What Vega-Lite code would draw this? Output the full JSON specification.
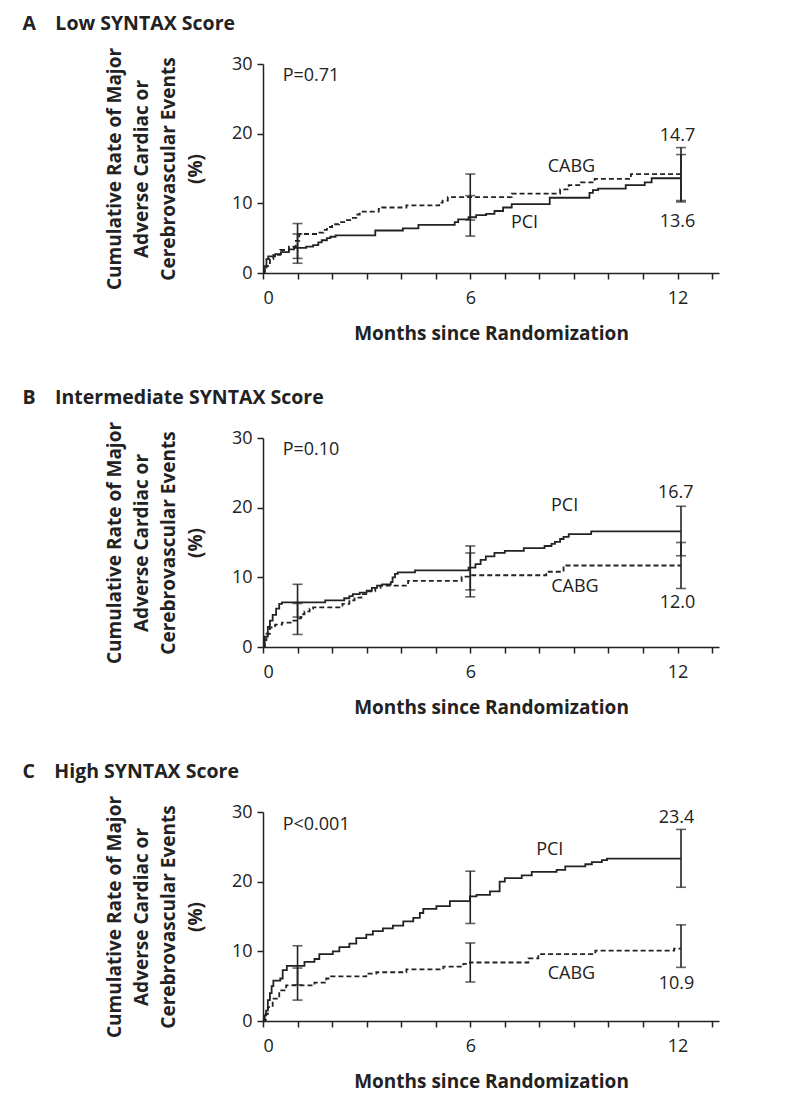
{
  "$schema": "https://vega.github.io/schema/vega-lite/v6.json",
  "padding": {"left": 22, "top": 13, "right": 5, "bottom": 5},
  "background": "white",
  "config": {
    "font": "Open Sans",
    "view": {"stroke": null},
    "axis": {"domainColor": "#222", "tickColor": "#222", "labelColor": "#222", "titleColor": "#222", "grid": false, "labelFont": "Open Sans", "labelFontSize": 18, "titleFont": "Open Sans", "titleFontSize": 19, "titleFontWeight": "bold", "tickSize": 6, "domainWidth": 1.5, "tickWidth": 1.5},
    "title": {"font": "Open Sans", "fontSize": 19.5, "fontWeight": "bold", "color": "#222", "anchor": "start", "frame": "bounds"},
    "text": {"font": "Open Sans", "fontSize": 18, "color": "#222"}
  },
  "datasets": {
    "curves": [
      {"panel":"A","group":"PCI","month":0,"rate":0},{"panel":"A","group":"PCI","month":0.05,"rate":1.0},{"panel":"A","group":"PCI","month":0.1,"rate":2.0},{"panel":"A","group":"PCI","month":0.15,"rate":2.4},{"panel":"A","group":"PCI","month":0.35,"rate":2.7},{"panel":"A","group":"PCI","month":0.52,"rate":3.0},{"panel":"A","group":"PCI","month":0.75,"rate":3.4},{"panel":"A","group":"PCI","month":0.9,"rate":3.6},{"panel":"A","group":"PCI","month":1.25,"rate":3.8},{"panel":"A","group":"PCI","month":1.45,"rate":4.0},{"panel":"A","group":"PCI","month":1.6,"rate":4.4},{"panel":"A","group":"PCI","month":1.7,"rate":4.7},{"panel":"A","group":"PCI","month":1.85,"rate":5.0},{"panel":"A","group":"PCI","month":1.95,"rate":5.2},{"panel":"A","group":"PCI","month":2.1,"rate":5.4},{"panel":"A","group":"PCI","month":3.25,"rate":6.1},{"panel":"A","group":"PCI","month":4.05,"rate":6.4},{"panel":"A","group":"PCI","month":4.5,"rate":6.9},{"panel":"A","group":"PCI","month":5.55,"rate":7.3},{"panel":"A","group":"PCI","month":5.65,"rate":7.7},{"panel":"A","group":"PCI","month":5.95,"rate":8.0},{"panel":"A","group":"PCI","month":6.17,"rate":8.3},{"panel":"A","group":"PCI","month":6.46,"rate":8.5},{"panel":"A","group":"PCI","month":6.7,"rate":8.9},{"panel":"A","group":"PCI","month":6.95,"rate":9.4},{"panel":"A","group":"PCI","month":7.2,"rate":9.9},{"panel":"A","group":"PCI","month":8.3,"rate":10.8},{"panel":"A","group":"PCI","month":9.45,"rate":11.5},{"panel":"A","group":"PCI","month":9.55,"rate":11.9},{"panel":"A","group":"PCI","month":9.7,"rate":12.1},{"panel":"A","group":"PCI","month":10.5,"rate":12.6},{"panel":"A","group":"PCI","month":11.05,"rate":13.0},{"panel":"A","group":"PCI","month":11.25,"rate":13.6},{"panel":"A","group":"PCI","month":12.1,"rate":13.6},
      {"panel":"A","group":"CABG","month":0,"rate":0},{"panel":"A","group":"CABG","month":0.05,"rate":0.5},{"panel":"A","group":"CABG","month":0.1,"rate":1.0},{"panel":"A","group":"CABG","month":0.2,"rate":2.0},{"panel":"A","group":"CABG","month":0.3,"rate":2.6},{"panel":"A","group":"CABG","month":0.5,"rate":3.3},{"panel":"A","group":"CABG","month":0.75,"rate":3.8},{"panel":"A","group":"CABG","month":0.95,"rate":4.6},{"panel":"A","group":"CABG","month":1.05,"rate":5.6},{"panel":"A","group":"CABG","month":1.6,"rate":5.8},{"panel":"A","group":"CABG","month":1.75,"rate":6.2},{"panel":"A","group":"CABG","month":1.85,"rate":6.6},{"panel":"A","group":"CABG","month":2.0,"rate":7.0},{"panel":"A","group":"CABG","month":2.2,"rate":7.3},{"panel":"A","group":"CABG","month":2.4,"rate":7.6},{"panel":"A","group":"CABG","month":2.55,"rate":7.9},{"panel":"A","group":"CABG","month":2.7,"rate":8.4},{"panel":"A","group":"CABG","month":2.8,"rate":8.8},{"panel":"A","group":"CABG","month":3.35,"rate":9.2},{"panel":"A","group":"CABG","month":3.45,"rate":9.4},{"panel":"A","group":"CABG","month":4.15,"rate":9.7},{"panel":"A","group":"CABG","month":5.1,"rate":10.1},{"panel":"A","group":"CABG","month":5.2,"rate":10.4},{"panel":"A","group":"CABG","month":5.35,"rate":10.9},{"panel":"A","group":"CABG","month":7.2,"rate":11.4},{"panel":"A","group":"CABG","month":8.6,"rate":12.0},{"panel":"A","group":"CABG","month":8.85,"rate":12.6},{"panel":"A","group":"CABG","month":9.2,"rate":13.0},{"panel":"A","group":"CABG","month":9.6,"rate":13.5},{"panel":"A","group":"CABG","month":10.65,"rate":14.2},{"panel":"A","group":"CABG","month":12.1,"rate":14.2},
      {"panel":"B","group":"PCI","month":0,"rate":0},{"panel":"B","group":"PCI","month":0.05,"rate":1.5},{"panel":"B","group":"PCI","month":0.14,"rate":2.9},{"panel":"B","group":"PCI","month":0.2,"rate":3.8},{"panel":"B","group":"PCI","month":0.28,"rate":4.6},{"panel":"B","group":"PCI","month":0.38,"rate":5.5},{"panel":"B","group":"PCI","month":0.47,"rate":6.2},{"panel":"B","group":"PCI","month":0.55,"rate":6.4},{"panel":"B","group":"PCI","month":1.8,"rate":6.7},{"panel":"B","group":"PCI","month":2.35,"rate":7.0},{"panel":"B","group":"PCI","month":2.5,"rate":7.3},{"panel":"B","group":"PCI","month":2.6,"rate":7.6},{"panel":"B","group":"PCI","month":2.8,"rate":7.8},{"panel":"B","group":"PCI","month":3.0,"rate":8.1},{"panel":"B","group":"PCI","month":3.15,"rate":8.5},{"panel":"B","group":"PCI","month":3.3,"rate":8.8},{"panel":"B","group":"PCI","month":3.45,"rate":9.0},{"panel":"B","group":"PCI","month":3.7,"rate":9.3},{"panel":"B","group":"PCI","month":3.75,"rate":10.0},{"panel":"B","group":"PCI","month":3.82,"rate":10.5},{"panel":"B","group":"PCI","month":3.9,"rate":10.7},{"panel":"B","group":"PCI","month":4.4,"rate":11.0},{"panel":"B","group":"PCI","month":5.95,"rate":11.4},{"panel":"B","group":"PCI","month":6.15,"rate":11.9},{"panel":"B","group":"PCI","month":6.3,"rate":12.5},{"panel":"B","group":"PCI","month":6.45,"rate":13.0},{"panel":"B","group":"PCI","month":6.7,"rate":13.5},{"panel":"B","group":"PCI","month":7.0,"rate":13.8},{"panel":"B","group":"PCI","month":7.55,"rate":14.2},{"panel":"B","group":"PCI","month":8.15,"rate":14.5},{"panel":"B","group":"PCI","month":8.35,"rate":14.8},{"panel":"B","group":"PCI","month":8.45,"rate":15.1},{"panel":"B","group":"PCI","month":8.6,"rate":15.5},{"panel":"B","group":"PCI","month":8.7,"rate":15.8},{"panel":"B","group":"PCI","month":8.85,"rate":16.2},{"panel":"B","group":"PCI","month":9.5,"rate":16.6},{"panel":"B","group":"PCI","month":12.1,"rate":16.6},
      {"panel":"B","group":"CABG","month":0,"rate":0},{"panel":"B","group":"CABG","month":0.05,"rate":1.0},{"panel":"B","group":"CABG","month":0.1,"rate":1.9},{"panel":"B","group":"CABG","month":0.2,"rate":2.8},{"panel":"B","group":"CABG","month":0.35,"rate":3.2},{"panel":"B","group":"CABG","month":0.55,"rate":3.5},{"panel":"B","group":"CABG","month":0.8,"rate":3.8},{"panel":"B","group":"CABG","month":1.0,"rate":4.1},{"panel":"B","group":"CABG","month":1.1,"rate":4.7},{"panel":"B","group":"CABG","month":1.2,"rate":5.1},{"panel":"B","group":"CABG","month":1.35,"rate":5.5},{"panel":"B","group":"CABG","month":1.45,"rate":5.7},{"panel":"B","group":"CABG","month":2.3,"rate":6.2},{"panel":"B","group":"CABG","month":2.5,"rate":6.7},{"panel":"B","group":"CABG","month":2.65,"rate":7.1},{"panel":"B","group":"CABG","month":2.85,"rate":7.6},{"panel":"B","group":"CABG","month":3.05,"rate":8.0},{"panel":"B","group":"CABG","month":3.25,"rate":8.5},{"panel":"B","group":"CABG","month":3.4,"rate":8.8},{"panel":"B","group":"CABG","month":4.2,"rate":9.5},{"panel":"B","group":"CABG","month":5.75,"rate":10.1},{"panel":"B","group":"CABG","month":6.0,"rate":10.3},{"panel":"B","group":"CABG","month":8.2,"rate":10.8},{"panel":"B","group":"CABG","month":8.7,"rate":11.7},{"panel":"B","group":"CABG","month":12.1,"rate":11.7},
      {"panel":"C","group":"PCI","month":0,"rate":0},{"panel":"C","group":"PCI","month":0.05,"rate":0.8},{"panel":"C","group":"PCI","month":0.09,"rate":1.5},{"panel":"C","group":"PCI","month":0.14,"rate":3.0},{"panel":"C","group":"PCI","month":0.2,"rate":4.0},{"panel":"C","group":"PCI","month":0.25,"rate":5.0},{"panel":"C","group":"PCI","month":0.3,"rate":5.8},{"panel":"C","group":"PCI","month":0.5,"rate":6.1},{"panel":"C","group":"PCI","month":0.57,"rate":7.3},{"panel":"C","group":"PCI","month":0.69,"rate":7.9},{"panel":"C","group":"PCI","month":1.2,"rate":8.5},{"panel":"C","group":"PCI","month":1.49,"rate":8.9},{"panel":"C","group":"PCI","month":1.63,"rate":9.6},{"panel":"C","group":"PCI","month":2.02,"rate":10.0},{"panel":"C","group":"PCI","month":2.21,"rate":10.6},{"panel":"C","group":"PCI","month":2.5,"rate":11.1},{"panel":"C","group":"PCI","month":2.7,"rate":11.9},{"panel":"C","group":"PCI","month":2.99,"rate":12.4},{"panel":"C","group":"PCI","month":3.18,"rate":12.9},{"panel":"C","group":"PCI","month":3.47,"rate":13.3},{"panel":"C","group":"PCI","month":3.76,"rate":13.7},{"panel":"C","group":"PCI","month":4.06,"rate":14.3},{"panel":"C","group":"PCI","month":4.35,"rate":14.8},{"panel":"C","group":"PCI","month":4.54,"rate":15.5},{"panel":"C","group":"PCI","month":4.64,"rate":16.1},{"panel":"C","group":"PCI","month":5.02,"rate":16.5},{"panel":"C","group":"PCI","month":5.41,"rate":17.2},{"panel":"C","group":"PCI","month":5.99,"rate":17.9},{"panel":"C","group":"PCI","month":6.18,"rate":18.1},{"panel":"C","group":"PCI","month":6.57,"rate":18.6},{"panel":"C","group":"PCI","month":6.85,"rate":20.0},{"panel":"C","group":"PCI","month":7.0,"rate":20.5},{"panel":"C","group":"PCI","month":7.49,"rate":20.9},{"panel":"C","group":"PCI","month":7.78,"rate":21.4},{"panel":"C","group":"PCI","month":8.5,"rate":21.7},{"panel":"C","group":"PCI","month":8.75,"rate":22.2},{"panel":"C","group":"PCI","month":9.33,"rate":22.5},{"panel":"C","group":"PCI","month":9.52,"rate":22.8},{"panel":"C","group":"PCI","month":9.81,"rate":23.1},{"panel":"C","group":"PCI","month":9.96,"rate":23.3},{"panel":"C","group":"PCI","month":12.1,"rate":23.3},
      {"panel":"C","group":"CABG","month":0,"rate":0},{"panel":"C","group":"CABG","month":0.08,"rate":1.0},{"panel":"C","group":"CABG","month":0.14,"rate":2.0},{"panel":"C","group":"CABG","month":0.28,"rate":3.2},{"panel":"C","group":"CABG","month":0.47,"rate":4.4},{"panel":"C","group":"CABG","month":0.67,"rate":5.1},{"panel":"C","group":"CABG","month":1.49,"rate":5.5},{"panel":"C","group":"CABG","month":1.83,"rate":6.1},{"panel":"C","group":"CABG","month":1.97,"rate":6.4},{"panel":"C","group":"CABG","month":2.99,"rate":6.8},{"panel":"C","group":"CABG","month":3.28,"rate":7.0},{"panel":"C","group":"CABG","month":4.15,"rate":7.4},{"panel":"C","group":"CABG","month":5.22,"rate":7.8},{"panel":"C","group":"CABG","month":5.8,"rate":8.2},{"panel":"C","group":"CABG","month":5.99,"rate":8.4},{"panel":"C","group":"CABG","month":7.68,"rate":9.0},{"panel":"C","group":"CABG","month":7.97,"rate":9.6},{"panel":"C","group":"CABG","month":9.62,"rate":10.1},{"panel":"C","group":"CABG","month":11.9,"rate":10.4},{"panel":"C","group":"CABG","month":12.1,"rate":10.4}
    ],
    "bars": [
      {"panel":"A","group":"PCI","month":1.0,"lo":1.4,"hi":5.6},{"panel":"A","group":"CABG","month":1.0,"lo":2.1,"hi":7.1},
      {"panel":"A","group":"PCI","month":6.0,"lo":5.3,"hi":11.1},{"panel":"A","group":"CABG","month":6.0,"lo":7.6,"hi":14.2},
      {"panel":"A","group":"PCI","month":12.1,"lo":10.2,"hi":17.0},{"panel":"A","group":"CABG","month":12.1,"lo":10.4,"hi":18.0},
      {"panel":"B","group":"PCI","month":1.0,"lo":4.3,"hi":9.0},{"panel":"B","group":"CABG","month":1.0,"lo":1.8,"hi":6.25},
      {"panel":"B","group":"PCI","month":6.0,"lo":8.2,"hi":14.5},{"panel":"B","group":"CABG","month":6.0,"lo":7.2,"hi":13.5},
      {"panel":"B","group":"PCI","month":12.1,"lo":13.1,"hi":20.2},{"panel":"B","group":"CABG","month":12.1,"lo":8.4,"hi":15.0},
      {"panel":"C","group":"PCI","month":1.0,"lo":5.2,"hi":10.8},{"panel":"C","group":"CABG","month":1.0,"lo":3.0,"hi":7.6},
      {"panel":"C","group":"PCI","month":6.0,"lo":14.0,"hi":21.5},{"panel":"C","group":"CABG","month":6.0,"lo":5.6,"hi":11.2},
      {"panel":"C","group":"PCI","month":12.1,"lo":19.2,"hi":27.5},{"panel":"C","group":"CABG","month":12.1,"lo":7.7,"hi":13.8}
    ],
    "labels": [
      {"panel":"A","month":12.0,"rate":19.7,"text":"14.7"},{"panel":"A","month":12.0,"rate":7.3,"text":"13.6"},{"panel":"A","month":8.93,"rate":15.2,"text":"CABG"},{"panel":"A","month":7.57,"rate":7.2,"text":"PCI"},
      {"panel":"B","month":11.95,"rate":22.1,"text":"16.7"},{"panel":"B","month":12.0,"rate":6.25,"text":"12.0"},{"panel":"B","month":9.03,"rate":8.6,"text":"CABG"},{"panel":"B","month":8.73,"rate":20.2,"text":"PCI"},
      {"panel":"C","month":11.97,"rate":29.2,"text":"23.4"},{"panel":"C","month":11.97,"rate":5.3,"text":"10.9"},{"panel":"C","month":8.93,"rate":6.8,"text":"CABG"},{"panel":"C","month":8.3,"rate":24.6,"text":"PCI"}
    ],
    "pvals": [
      {"panel":"A","month":0.57,"rate":28.3,"text":"P=0.71"},
      {"panel":"B","month":0.57,"rate":28.3,"text":"P=0.10"},
      {"panel":"C","month":0.57,"rate":28.2,"text":"P<0.001"}
    ]
  },
  "spacing": 44,
  "vconcat": [
    {
      "width": 456, "height": 209,
      "title": {"text": "A\u2003Low SYNTAX Score", "dx": -83, "offset": 13},
      "layer": [
        {"data": {"name": "curves"}, "transform": [{"filter": "datum.panel == 'A'"}],
         "mark": {"type": "line", "interpolate": "step-after", "color": "#222", "strokeWidth": 1.8},
         "encoding": {
           "x": {"field": "month", "type": "quantitative", "scale": {"domain": [0, 13.2], "nice": false}, "axis": {"values": [0,1,2,3,4,5,6,7,8,9,10,11,12,13], "tickCount": 30, "format": "d", "labelExpr": "datum.value % 6 == 0 ? datum.label : ''", "title": "Months since Randomization", "labelPadding": 10, "titlePadding": 17}},
           "y": {"field": "rate", "type": "quantitative", "scale": {"domain": [0, 30], "nice": false}, "axis": {"values": [0,10,20,30], "format": "d", "title": ["Cumulative Rate of Major", "Adverse Cardiac or", "Cerebrovascular Events", "(%)"], "titleLineHeight": 27, "titlePadding": 26, "labelPadding": 5}},
           "strokeDash": {"field": "group", "type": "nominal", "scale": {"domain": ["PCI", "CABG"], "range": [[1, 0], [5, 3]]}, "legend": null}
         }},
        {"data": {"name": "bars"}, "transform": [{"filter": "datum.panel == 'A'"}],
         "mark": {"type": "rule", "color": "#222", "strokeWidth": 1.6},
         "encoding": {"x": {"field": "month", "type": "quantitative"}, "y": {"field": "lo", "type": "quantitative"}, "y2": {"field": "hi"}}},
        {"data": {"name": "bars"}, "transform": [{"filter": "datum.panel == 'A'"}],
         "mark": {"type": "tick", "orient": "horizontal", "color": "#222", "thickness": 1.6, "size": 10},
         "encoding": {"x": {"field": "month", "type": "quantitative"}, "y": {"field": "lo", "type": "quantitative"}}},
        {"data": {"name": "bars"}, "transform": [{"filter": "datum.panel == 'A'"}],
         "mark": {"type": "tick", "orient": "horizontal", "color": "#222", "thickness": 1.6, "size": 10},
         "encoding": {"x": {"field": "month", "type": "quantitative"}, "y": {"field": "hi", "type": "quantitative"}}},
        {"data": {"name": "labels"}, "transform": [{"filter": "datum.panel == 'A'"}],
         "mark": {"type": "text", "align": "center", "baseline": "middle"},
         "encoding": {"x": {"field": "month", "type": "quantitative"}, "y": {"field": "rate", "type": "quantitative"}, "text": {"field": "text"}}},
        {"data": {"name": "pvals"}, "transform": [{"filter": "datum.panel == 'A'"}],
         "mark": {"type": "text", "align": "left", "baseline": "middle"},
         "encoding": {"x": {"field": "month", "type": "quantitative"}, "y": {"field": "rate", "type": "quantitative"}, "text": {"field": "text"}}}
      ]
    },
    {
      "width": 456, "height": 209,
      "title": {"text": "B\u2003Intermediate SYNTAX Score", "dx": -83, "offset": 13},
      "layer": [
        {"data": {"name": "curves"}, "transform": [{"filter": "datum.panel == 'B'"}],
         "mark": {"type": "line", "interpolate": "step-after", "color": "#222", "strokeWidth": 1.8},
         "encoding": {
           "x": {"field": "month", "type": "quantitative", "scale": {"domain": [0, 13.2], "nice": false}, "axis": {"values": [0,1,2,3,4,5,6,7,8,9,10,11,12,13], "tickCount": 30, "format": "d", "labelExpr": "datum.value % 6 == 0 ? datum.label : ''", "title": "Months since Randomization", "labelPadding": 10, "titlePadding": 17}},
           "y": {"field": "rate", "type": "quantitative", "scale": {"domain": [0, 30], "nice": false}, "axis": {"values": [0,10,20,30], "format": "d", "title": ["Cumulative Rate of Major", "Adverse Cardiac or", "Cerebrovascular Events", "(%)"], "titleLineHeight": 27, "titlePadding": 26, "labelPadding": 5}},
           "strokeDash": {"field": "group", "type": "nominal", "scale": {"domain": ["PCI", "CABG"], "range": [[1, 0], [5, 3]]}, "legend": null}
         }},
        {"data": {"name": "bars"}, "transform": [{"filter": "datum.panel == 'B'"}],
         "mark": {"type": "rule", "color": "#222", "strokeWidth": 1.6},
         "encoding": {"x": {"field": "month", "type": "quantitative"}, "y": {"field": "lo", "type": "quantitative"}, "y2": {"field": "hi"}}},
        {"data": {"name": "bars"}, "transform": [{"filter": "datum.panel == 'B'"}],
         "mark": {"type": "tick", "orient": "horizontal", "color": "#222", "thickness": 1.6, "size": 10},
         "encoding": {"x": {"field": "month", "type": "quantitative"}, "y": {"field": "lo", "type": "quantitative"}}},
        {"data": {"name": "bars"}, "transform": [{"filter": "datum.panel == 'B'"}],
         "mark": {"type": "tick", "orient": "horizontal", "color": "#222", "thickness": 1.6, "size": 10},
         "encoding": {"x": {"field": "month", "type": "quantitative"}, "y": {"field": "hi", "type": "quantitative"}}},
        {"data": {"name": "labels"}, "transform": [{"filter": "datum.panel == 'B'"}],
         "mark": {"type": "text", "align": "center", "baseline": "middle"},
         "encoding": {"x": {"field": "month", "type": "quantitative"}, "y": {"field": "rate", "type": "quantitative"}, "text": {"field": "text"}}},
        {"data": {"name": "pvals"}, "transform": [{"filter": "datum.panel == 'B'"}],
         "mark": {"type": "text", "align": "left", "baseline": "middle"},
         "encoding": {"x": {"field": "month", "type": "quantitative"}, "y": {"field": "rate", "type": "quantitative"}, "text": {"field": "text"}}}
      ]
    },
    {
      "width": 456, "height": 209,
      "title": {"text": "C\u2003High SYNTAX Score", "dx": -83, "offset": 13},
      "layer": [
        {"data": {"name": "curves"}, "transform": [{"filter": "datum.panel == 'C'"}],
         "mark": {"type": "line", "interpolate": "step-after", "color": "#222", "strokeWidth": 1.8},
         "encoding": {
           "x": {"field": "month", "type": "quantitative", "scale": {"domain": [0, 13.2], "nice": false}, "axis": {"values": [0,1,2,3,4,5,6,7,8,9,10,11,12,13], "tickCount": 30, "format": "d", "labelExpr": "datum.value % 6 == 0 ? datum.label : ''", "title": "Months since Randomization", "labelPadding": 10, "titlePadding": 17}},
           "y": {"field": "rate", "type": "quantitative", "scale": {"domain": [0, 30], "nice": false}, "axis": {"values": [0,10,20,30], "format": "d", "title": ["Cumulative Rate of Major", "Adverse Cardiac or", "Cerebrovascular Events", "(%)"], "titleLineHeight": 27, "titlePadding": 26, "labelPadding": 5}},
           "strokeDash": {"field": "group", "type": "nominal", "scale": {"domain": ["PCI", "CABG"], "range": [[1, 0], [5, 3]]}, "legend": null}
         }},
        {"data": {"name": "bars"}, "transform": [{"filter": "datum.panel == 'C'"}],
         "mark": {"type": "rule", "color": "#222", "strokeWidth": 1.6},
         "encoding": {"x": {"field": "month", "type": "quantitative"}, "y": {"field": "lo", "type": "quantitative"}, "y2": {"field": "hi"}}},
        {"data": {"name": "bars"}, "transform": [{"filter": "datum.panel == 'C'"}],
         "mark": {"type": "tick", "orient": "horizontal", "color": "#222", "thickness": 1.6, "size": 10},
         "encoding": {"x": {"field": "month", "type": "quantitative"}, "y": {"field": "lo", "type": "quantitative"}}},
        {"data": {"name": "bars"}, "transform": [{"filter": "datum.panel == 'C'"}],
         "mark": {"type": "tick", "orient": "horizontal", "color": "#222", "thickness": 1.6, "size": 10},
         "encoding": {"x": {"field": "month", "type": "quantitative"}, "y": {"field": "hi", "type": "quantitative"}}},
        {"data": {"name": "labels"}, "transform": [{"filter": "datum.panel == 'C'"}],
         "mark": {"type": "text", "align": "center", "baseline": "middle"},
         "encoding": {"x": {"field": "month", "type": "quantitative"}, "y": {"field": "rate", "type": "quantitative"}, "text": {"field": "text"}}},
        {"data": {"name": "pvals"}, "transform": [{"filter": "datum.panel == 'C'"}],
         "mark": {"type": "text", "align": "left", "baseline": "middle"},
         "encoding": {"x": {"field": "month", "type": "quantitative"}, "y": {"field": "rate", "type": "quantitative"}, "text": {"field": "text"}}}
      ]
    }
  ]
}
